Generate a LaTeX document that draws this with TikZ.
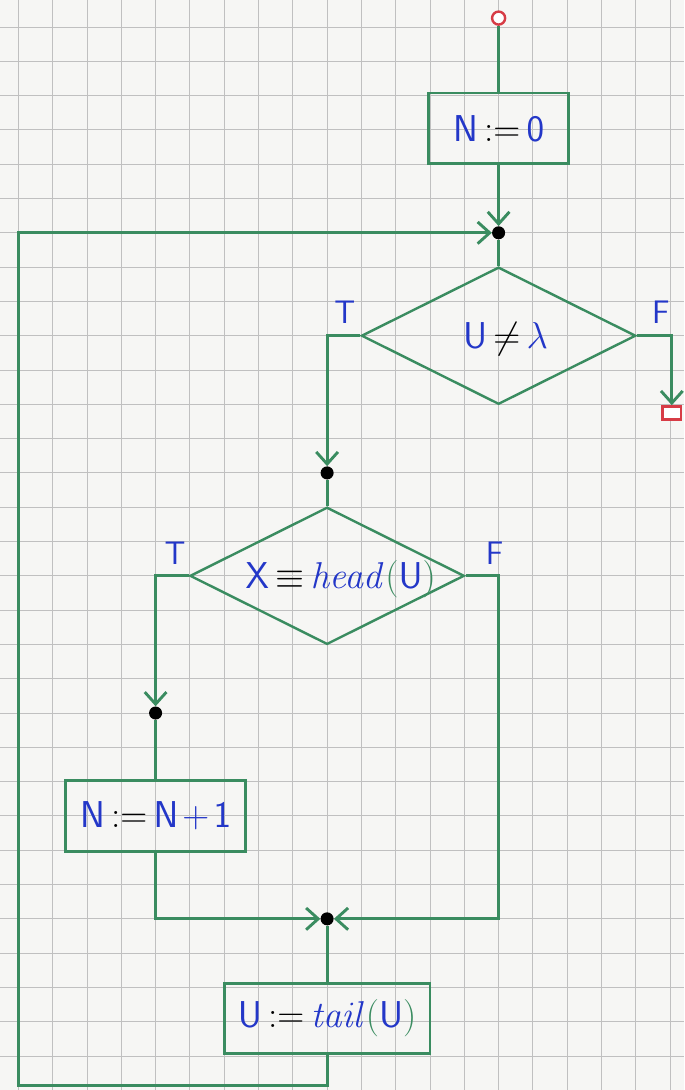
\RequirePackage{fix-cm}
\documentclass[tikz,border=0pt]{standalone}
\usepackage{amsmath,amssymb}
\usepackage{xcolor}
\usepackage{tikz}
\usetikzlibrary{shapes.geometric,arrows.meta,positioning}
\definecolor{paper}{RGB}{246,246,244}
\definecolor{gridgray}{RGB}{192,192,192}
\definecolor{pengreen}{RGB}{58,140,96}
\definecolor{inkblue}{RGB}{35,55,200}
\definecolor{markred}{RGB}{215,60,70}
\newcommand{\asgn}{\mathrel{\textcolor{black}{:=}}}
\newcommand{\po}{\mathopen{\textcolor{pengreen}{(}}}
\newcommand{\pc}{\mathclose{\textcolor{pengreen}{)}}}
\newcommand{\bigink}{\fontsize{31}{38}\selectfont\thickmuskip=3mu\medmuskip=2mu}

\begin{document}
\begin{tikzpicture}[
  line/.style={draw=pengreen, line width=2.4pt},
  arr/.style={line, -{Straight Barb[length=10pt,width=18pt]}},
  stmt/.style={rectangle, draw=pengreen, line width=2.4pt, minimum height=2.05cm,
               inner sep=0pt, text=inkblue, font=\bigink},
  decision/.style={diamond, draw=pengreen, line width=2pt, minimum width=8cm,
                   minimum height=4cm, inner sep=0pt},
  cond/.style={text=inkblue, font=\bigink},
  branch/.style={text=inkblue, font=\sffamily\fontsize{27}{30}\selectfont, inner sep=1pt},
  dot/.style={circle, fill=black, inner sep=0pt, minimum size=0.38cm},
  startmark/.style={circle, draw=markred, line width=2pt, fill=white,
                    inner sep=0pt, minimum size=0.38cm},
  endmark/.style={rectangle, draw=markred, line width=2pt, fill=white,
                  inner sep=0pt, minimum width=0.55cm, minimum height=0.38cm}
]
% graph paper
\useasboundingbox (-0.536,-30.99) rectangle (19.405,0.787);
\fill[paper] (-0.536,-30.99) rectangle (19.405,0.787);
\draw[gridgray, line width=0.8pt] (-0.536,-30.99) grid (19.405,0.787);

% nodes
\node[startmark] (s) at (14,0.26) {};
\node[stmt, minimum width=4.1cm] (b0) at (14,-2.95) {$\mathsf{N}\asgn\mathsf{0}$};
\node[dot] (j1) at (14,-6) {};
\node[decision] (c1) at (14,-9) {};
\node[cond] at (14.2,-9.1) {$\mathsf{U}\mathrel{\textcolor{black}{\neq}}\lambda$};
\node[branch, above left=0.3cm and 0.1cm of c1.west] {T};
\node[branch, above right=0.3cm and 0.4cm of c1.east] {F};
\node[endmark] (e) at (19.05,-11.25) {};
\node[dot] (j2) at (9,-13) {};
\node[decision] (c2) at (9,-16) {};
\node[cond] at (9.4,-16.1) {$\mathsf{X}\mathrel{\textcolor{black}{\equiv}}\mathit{head}\po\mathsf{U}\pc$};
\node[branch, above left=0.3cm and 0.05cm of c2.west] {T};
\node[branch, above right=0.3cm and 0.55cm of c2.east] {F};
\node[dot] (j3) at (4,-20) {};
\node[stmt, minimum width=5.25cm] (b1) at (4,-23) {$\mathsf{N}\asgn\mathsf{N}+\mathsf{1}$};
\node[dot] (j4) at (9,-26) {};
\node[stmt, minimum width=6cm] (b2) at (9,-28.9) {$\mathsf{U}\asgn\mathit{tail}\po\mathsf{U}\pc$};
\coordinate (fc) at (14,-26);
\coordinate (lb) at (0,-30.85);

% connectors
\draw[line] (s) -- (b0);
\draw[arr] (b0) -- (j1);
\draw[line] (j1) -- (c1);
\draw[arr] (c1.west) -| (j2);
\draw[arr] (c1.east) -| (e);
\draw[line] (j2) -- (c2);
\draw[arr] (c2.west) -| (j3);
\draw[line] (j3) -- (b1);
\draw[arr] (b1.south) |- (j4);
\draw[arr] (c2.east) -| (fc) -- (j4);
\draw[line] (j4) -- (b2);
\draw[arr] (b2.south) |- (lb) |- (j1);
\end{tikzpicture}
\end{document}
